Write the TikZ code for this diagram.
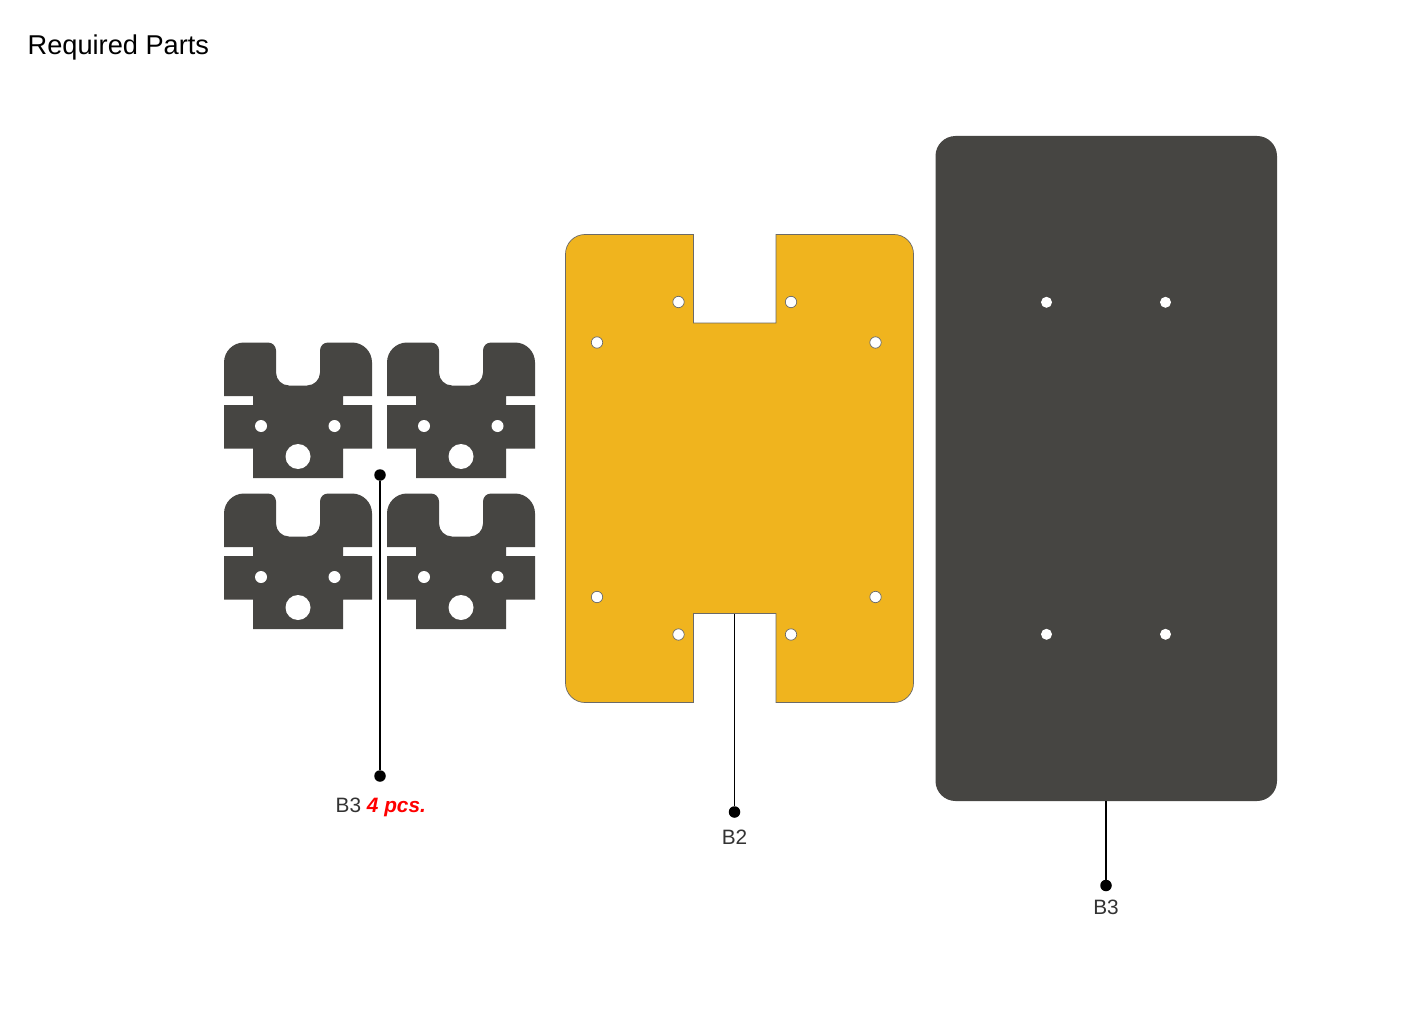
\documentclass[tikz,border=0pt]{standalone}
\usepackage{fontspec}
\setmainfont{Liberation Sans}
\definecolor{darkpart}{HTML}{464542}
\definecolor{yellowpart}{HTML}{F0B41E}
\definecolor{labeltext}{HTML}{333333}
\tikzset{
  darkplate/.style={fill=darkpart,draw=none},
  yellowplate/.style={fill=yellowpart,draw=darkpart!80,line width=0.7pt},
  bighole/.style={fill=white,draw=none},
  yhole/.style={fill=white,draw=darkpart!80,line width=0.7pt},
  leader/.style={draw=black,line width=1.5pt},
  dotend/.style={circle,fill=black,inner sep=0pt,minimum size=11.5pt},
  partlabel/.style={text=labeltext,font=\fontsize{20.8}{24}\selectfont,inner sep=0pt},
}
\newcommand{\smallpart}[2]{%
  \begin{scope}[shift={(#1,#2)}]
    \fill[darkplate] (0,20) arc[start angle=-180,end angle=-90,radius=20] -- (44,0)
      arc[start angle=-90,end angle=0,radius=8] -- (52,30)
      arc[start angle=-180,end angle=-270,radius=13] -- (83,43)
      arc[start angle=-270,end angle=-360,radius=13] -- (96,8)
      arc[start angle=-180,end angle=-90,radius=8] -- (128,0)
      arc[start angle=-90,end angle=0,radius=20] -- (148,53.5) -- (119,53.5) -- (119,62.5) -- (148,62.5)
      -- (148,106) -- (119,106) -- (119,135.5) -- (29,135.5) -- (29,106) -- (0,106) -- (0,62.5)
      -- (29,62.5) -- (29,53.5) -- (0,53.5) -- cycle;
    \fill[bighole] (37,83.5) circle (6);
    \fill[bighole] (110.5,83.5) circle (6);
    \fill[bighole] (74,114) circle (12.5);
  \end{scope}}
\begin{document}
\begin{tikzpicture}[x=1pt,y=-1pt]
\useasboundingbox (0,0) rectangle (1418,1032);
\fill[white] (0,0) rectangle (1418,1032);
\node[anchor=base west,inner sep=0pt,font=\fontsize{27.2}{30}\selectfont,text=black] (title) at (27.5,54.5) {Required Parts};
\smallpart{224}{342.5}
\smallpart{387}{342.5}
\smallpart{224}{493.5}
\smallpart{387}{493.5}
% yellow plate
\filldraw[yellowplate] (565.5,254) arc[start angle=-180,end angle=-90,radius=19.5] -- (693.5,234.5) -- (693.5,323) -- (776,323) -- (776,234.5) -- (894,234.5)
  arc[start angle=-90,end angle=0,radius=19.5] -- (913.5,683) arc[start angle=0,end angle=90,radius=19.5]
  -- (776,702.5) -- (776,613.5) -- (693.5,613.5) -- (693.5,702.5) -- (585,702.5)
  arc[start angle=90,end angle=180,radius=19.5] -- cycle;
\foreach \hx/\hy in {678.5/302,791/302,597/342.5,875.5/342.5,597/597,875.5/597,678.5/634.5,791/634.5}
  \filldraw[yhole] (\hx,\hy) circle (5.7);
% dark plate
\fill[darkplate] (935.5,156) arc[start angle=-180,end angle=-90,radius=20] -- (1257,136) arc[start angle=-90,end angle=0,radius=20]
  -- (1277,781) arc[start angle=0,end angle=90,radius=20] -- (955.5,801) arc[start angle=90,end angle=180,radius=20] -- cycle;
\foreach \hx/\hy in {1046.5/302.3,1165.5/302.3,1046.5/634.3,1165.5/634.3}
  \fill[bighole] (\hx,\hy) circle (5.5);
% leaders
\node[dotend] (d1a) at (380,475) {};
\node[dotend] (d1b) at (380,776) {};
\draw[leader] (d1a) -- (d1b);
\coordinate (c2) at (734.5,613.5);
\node[dotend] (d2) at (734.5,812) {};
\draw[leader] (c2) -- (d2);
\coordinate (c3) at (1106,801);
\node[dotend] (d3) at (1106,885.5) {};
\draw[leader] (c3) -- (d3);
% labels
\node[partlabel,anchor=base west] (l1) at (335.5,812) {B3 \textcolor{red}{\textbf{\textit{4 pcs.}}}};
\node[partlabel,anchor=base] (l2) at (734.5,844) {B2};
\node[partlabel,anchor=base] (l3) at (1106,914.5) {B3};
\end{tikzpicture}
\end{document}
